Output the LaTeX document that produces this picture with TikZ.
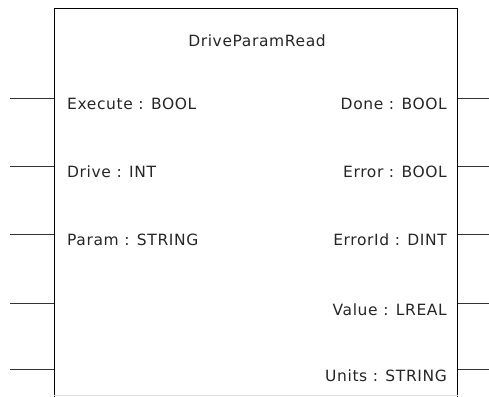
\documentclass[tikz,border=0pt]{standalone}
\usepackage{fontspec}
\setmainfont{DejaVu Sans}[LetterSpace=4]
\begin{document}
\begin{tikzpicture}[x=1pt,y=1pt,
  fbbox/.style={draw=black,line width=1.2pt,minimum width=403pt,minimum height=400pt,inner sep=0pt,anchor=north west},
  pinline/.style={draw=black!80,line width=0.9pt},
  lbl/.style={font=\fontsize{15.5}{18}\selectfont,text=black!85,inner sep=0pt},
  inlbl/.style={lbl,anchor=base west},
  outlbl/.style={lbl,anchor=base east}]
\useasboundingbox (0,0) rectangle (489,396);
\node[fbbox] (box) at (54,388) {};
\draw[black!12,line width=1pt] (box.west |- 0,1) -- (box.east |- 0,1);
\node[lbl,anchor=base] (title) at (257,396-47) {DriveParamRead};
% pin rows (px from top -> y = 396 - px)
\foreach \n/\py in {1/98,2/166,3/234,4/303,5/369}{
  \coordinate (li\n) at (10,396-\py);
  \coordinate (ro\n) at (489,396-\py);
  \draw[pinline] (li\n) -- (box.west |- li\n);
  \draw[pinline] (box.east |- ro\n) -- (ro\n);
}
\node[inlbl] (ex) at (67,396-110) {Execute : BOOL};
\node[inlbl] (dr) at (67,396-178) {Drive : INT};
\node[inlbl] (pa) at (67,396-246) {Param : STRING};
\node[outlbl] (dn) at (447,396-110) {Done : BOOL};
\node[outlbl] (er) at (447,396-178) {Error : BOOL};
\node[outlbl] (ei) at (447,396-246) {ErrorId : DINT};
\node[outlbl] (va) at (447,396-315) {Value : LREAL};
\node[outlbl] (un) at (447,396-381) {Units : STRING};
\end{tikzpicture}
\end{document}
